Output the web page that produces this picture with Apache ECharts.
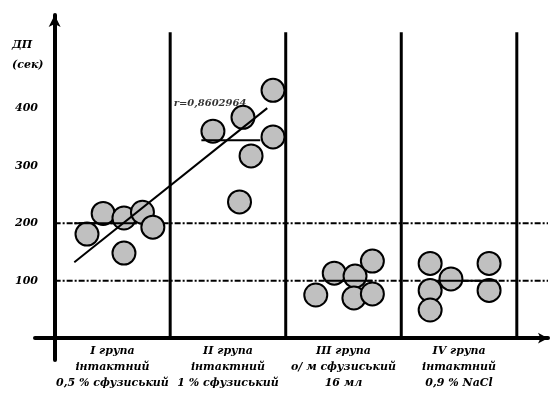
<!DOCTYPE html>
<html>
<head>
<meta charset="utf-8">
<script src="https://cdn.jsdelivr.net/npm/echarts@6/dist/echarts.min.js"></script>
<style>
  html, body { margin: 0; padding: 0; background: #fff; }
  #chart { width: 550px; height: 393px; }
</style>
</head>
<body>
<div id="chart"></div>
<script>
// group labels under the x axis, one entry per group
const groupLabels = [
  "I група\nінтактний\n0,5 % сфузиський",
  "II група\nінтактний\n1 % сфузиський",
  "III група\nо/ м сфузиський\n16 мл",
  "IV група\nінтактний\n0,9 % NaCl",
]
const groupCenters = [0.5, 1.5, 2.5, 3.5]
const yTicks = [100, 200, 300, 400]

// [position within group, value]
const groupI = [[0.28, 181], [0.42, 217], [0.6, 209], [0.6, 148], [0.76, 219], [0.85, 193]]
const groupII = [[1.89, 431], [1.63, 384], [1.37, 360], [1.89, 350], [1.7, 317], [1.6, 237]]
const groupIII = [[2.26, 75], [2.42, 113], [2.6, 108], [2.75, 134], [2.59, 70], [2.75, 77]]
const groupIV = [[3.25, 130], [3.25, 83], [3.25, 49], [3.43, 103], [3.76, 130], [3.76, 83]]

const meanLevels = [200, 344, 100, 100]
const meanSpans = [[0.17, 0.71], [1.27, 1.78], [2.35, 2.75], [3.31, 3.83]]

const regression = [[0.17, 132], [1.84, 400]]
const rLabel = "r=0,8602964"
const rAnchor = [1.03, 409]

const refLevels = [100, 200]
const dividers = [1, 2, 3, 4]
const dividerTop = 532

const font = "DejaVu Serif"
const chart = echarts.init(document.getElementById("chart"), null, { renderer: "canvas" })

const points = [...groupI, ...groupII, ...groupIII, ...groupIV]
const textStyle = { color: "#000", fontFamily: font, fontStyle: "italic", fontWeight: "bold" }

const series = []

refLevels.forEach((lvl) => {
  series.push({
    type: "line",
    data: [[0, lvl], [4.27, lvl]],
    symbol: "none",
    silent: true,
    z: 1,
    lineStyle: { color: "#000", width: 2, type: [6, 2, 2, 2] },
  })
})

dividers.forEach((d) => {
  series.push({
    type: "line",
    data: [[d, 0], [d, dividerTop]],
    symbol: "none",
    silent: true,
    z: 1,
    lineStyle: { color: "#000", width: 3 },
  })
})

series.push({
  type: "scatter",
  data: points,
  symbolSize: 23,
  z: 2,
  itemStyle: { color: "#c0c0c0", borderColor: "#000", borderWidth: 2, opacity: 1 },
})

meanLevels.forEach((lvl, i) => {
  series.push({
    type: "line",
    data: [[meanSpans[i][0], lvl], [meanSpans[i][1], lvl]],
    symbol: "none",
    silent: true,
    z: 3,
    lineStyle: { color: "#000", width: 2 },
  })
})

series.push({
  type: "line",
  data: regression,
  symbol: "none",
  silent: true,
  z: 3,
  lineStyle: { color: "#000", width: 2 },
})

series.push({
  type: "scatter",
  data: [rAnchor],
  symbolSize: 0,
  silent: true,
  z: 4,
  label: { show: true, position: "right", distance: 0, formatter: rLabel, fontSize: 10, ...textStyle },
})

chart.setOption({
  animation: false,
  grid: { left: 35, right: 2, top: 15, bottom: 33, containLabel: false, outerBoundsMode: "none" },
  graphic: [
    {
      type: "text",
      left: 12,
      top: 35,
      style: {
        text: "ДП\n(сек)",
        fill: "#000",
        font: "italic bold 11px 'DejaVu Serif'",
        lineHeight: 20,
        align: "left",
      },
    },
  ],
  xAxis: {
    type: "value",
    min: -0.17,
    max: 4.27,
    axisLine: {
      onZero: true,
      symbol: ["none", "arrow"],
      symbolSize: [8, 10],
      lineStyle: { color: "#000", width: 4 },
    },
    axisTick: { show: false },
    splitLine: { show: false },
    axisLabel: {
      customValues: groupCenters,
      formatter: (v) => groupLabels[Math.floor(v)] || "",
      fontSize: 11,
      lineHeight: 16,
      margin: -17,
      ...textStyle,
    },
  },
  yAxis: {
    type: "value",
    min: -38,
    max: 562,
    axisLine: {
      onZero: true,
      symbol: ["none", "arrow"],
      symbolSize: [9, 12],
      lineStyle: { color: "#000", width: 4 },
    },
    axisTick: { show: false },
    splitLine: { show: false },
    axisLabel: { customValues: yTicks, fontSize: 11, margin: -3, ...textStyle },
  },
  series,
})
</script>
</body>
</html>
